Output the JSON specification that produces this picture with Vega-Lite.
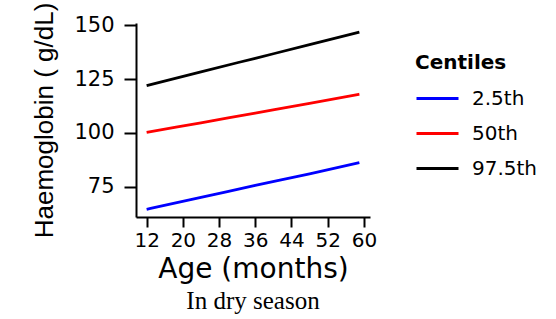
{
  "$schema": "https://vega.github.io/schema/vega-lite/v6.json",
  "width": 234,
  "height": 194,
  "autosize": {"type": "none"},
  "padding": {"left": 136, "top": 23, "right": 186, "bottom": 102},
  "background": "white",
  "title": {
    "text": "In dry season",
    "orient": "bottom",
    "anchor": "middle",
    "font": "Liberation Serif",
    "fontSize": 25,
    "fontWeight": "normal",
    "color": "black",
    "offset": 6
  },
  "data": {
    "values": [
      {"age": 12, "hb": 64.5, "centile": "2.5th"},
      {"age": 24, "hb": 70.0, "centile": "2.5th"},
      {"age": 36, "hb": 75.6, "centile": "2.5th"},
      {"age": 48, "hb": 81.0, "centile": "2.5th"},
      {"age": 59, "hb": 86.2, "centile": "2.5th"},
      {"age": 12, "hb": 100.2, "centile": "50th"},
      {"age": 24, "hb": 104.7, "centile": "50th"},
      {"age": 36, "hb": 109.2, "centile": "50th"},
      {"age": 48, "hb": 113.7, "centile": "50th"},
      {"age": 59, "hb": 118.0, "centile": "50th"},
      {"age": 12, "hb": 122.0, "centile": "97.5th"},
      {"age": 24, "hb": 128.4, "centile": "97.5th"},
      {"age": 36, "hb": 134.7, "centile": "97.5th"},
      {"age": 48, "hb": 141.0, "centile": "97.5th"},
      {"age": 59, "hb": 146.9, "centile": "97.5th"}
    ]
  },
  "mark": {"type": "line", "strokeWidth": 2.8, "interpolate": "monotone"},
  "encoding": {
    "x": {
      "field": "age",
      "type": "quantitative",
      "scale": {"domain": [9.65, 61.35], "nice": false, "zero": false},
      "axis": {
        "title": "Age (months)",
        "values": [12, 20, 28, 36, 44, 52, 60],
        "grid": false,
        "domainColor": "black",
        "domainWidth": 2,
        "tickColor": "black",
        "tickWidth": 2,
        "tickSize": 10,
        "labelFont": "DejaVu Sans",
        "labelFontSize": 20,
        "labelColor": "black",
        "labelPadding": 3,
        "labelOverlap": false,
        "titleFont": "DejaVu Sans",
        "titleFontSize": 28,
        "titleFontWeight": "normal",
        "titleColor": "black",
        "titlePadding": 5
      }
    },
    "y": {
      "field": "hb",
      "type": "quantitative",
      "scale": {"domain": [60.9, 151.1], "nice": false, "zero": false},
      "axis": {
        "title": "Haemoglobin ( g/dL)",
        "values": [75, 100, 125, 150],
        "grid": false,
        "domainColor": "black",
        "domainWidth": 2,
        "tickColor": "black",
        "tickWidth": 2,
        "tickSize": 12,
        "labelFont": "DejaVu Sans",
        "labelFontSize": 21,
        "labelColor": "black",
        "labelPadding": 10,
        "titleFont": "Liberation Sans",
        "titleFontSize": 26,
        "titleFontWeight": "normal",
        "titleColor": "black",
        "titlePadding": 16
      }
    },
    "color": {
      "field": "centile",
      "type": "nominal",
      "sort": ["2.5th", "50th", "97.5th"],
      "scale": {"domain": ["2.5th", "50th", "97.5th"], "range": ["#0000FF", "#FF0000", "#000000"]},
      "legend": {
        "title": "Centiles",
        "orient": "none",
        "legendX": 279,
        "legendY": 30,
        "titleFont": "DejaVu Sans",
        "titleFontSize": 20,
        "titleFontWeight": "bold",
        "titleColor": "black",
        "titlePadding": 8,
        "symbolType": "stroke",
        "symbolSize": 1764,
        "symbolStrokeWidth": 2.8,
        "clipHeight": 35,
        "rowPadding": 0,
        "labelFont": "DejaVu Sans",
        "labelFontSize": 20,
        "labelColor": "black",
        "labelOffset": 12
      }
    }
  },
  "config": {"view": {"stroke": null}}
}
